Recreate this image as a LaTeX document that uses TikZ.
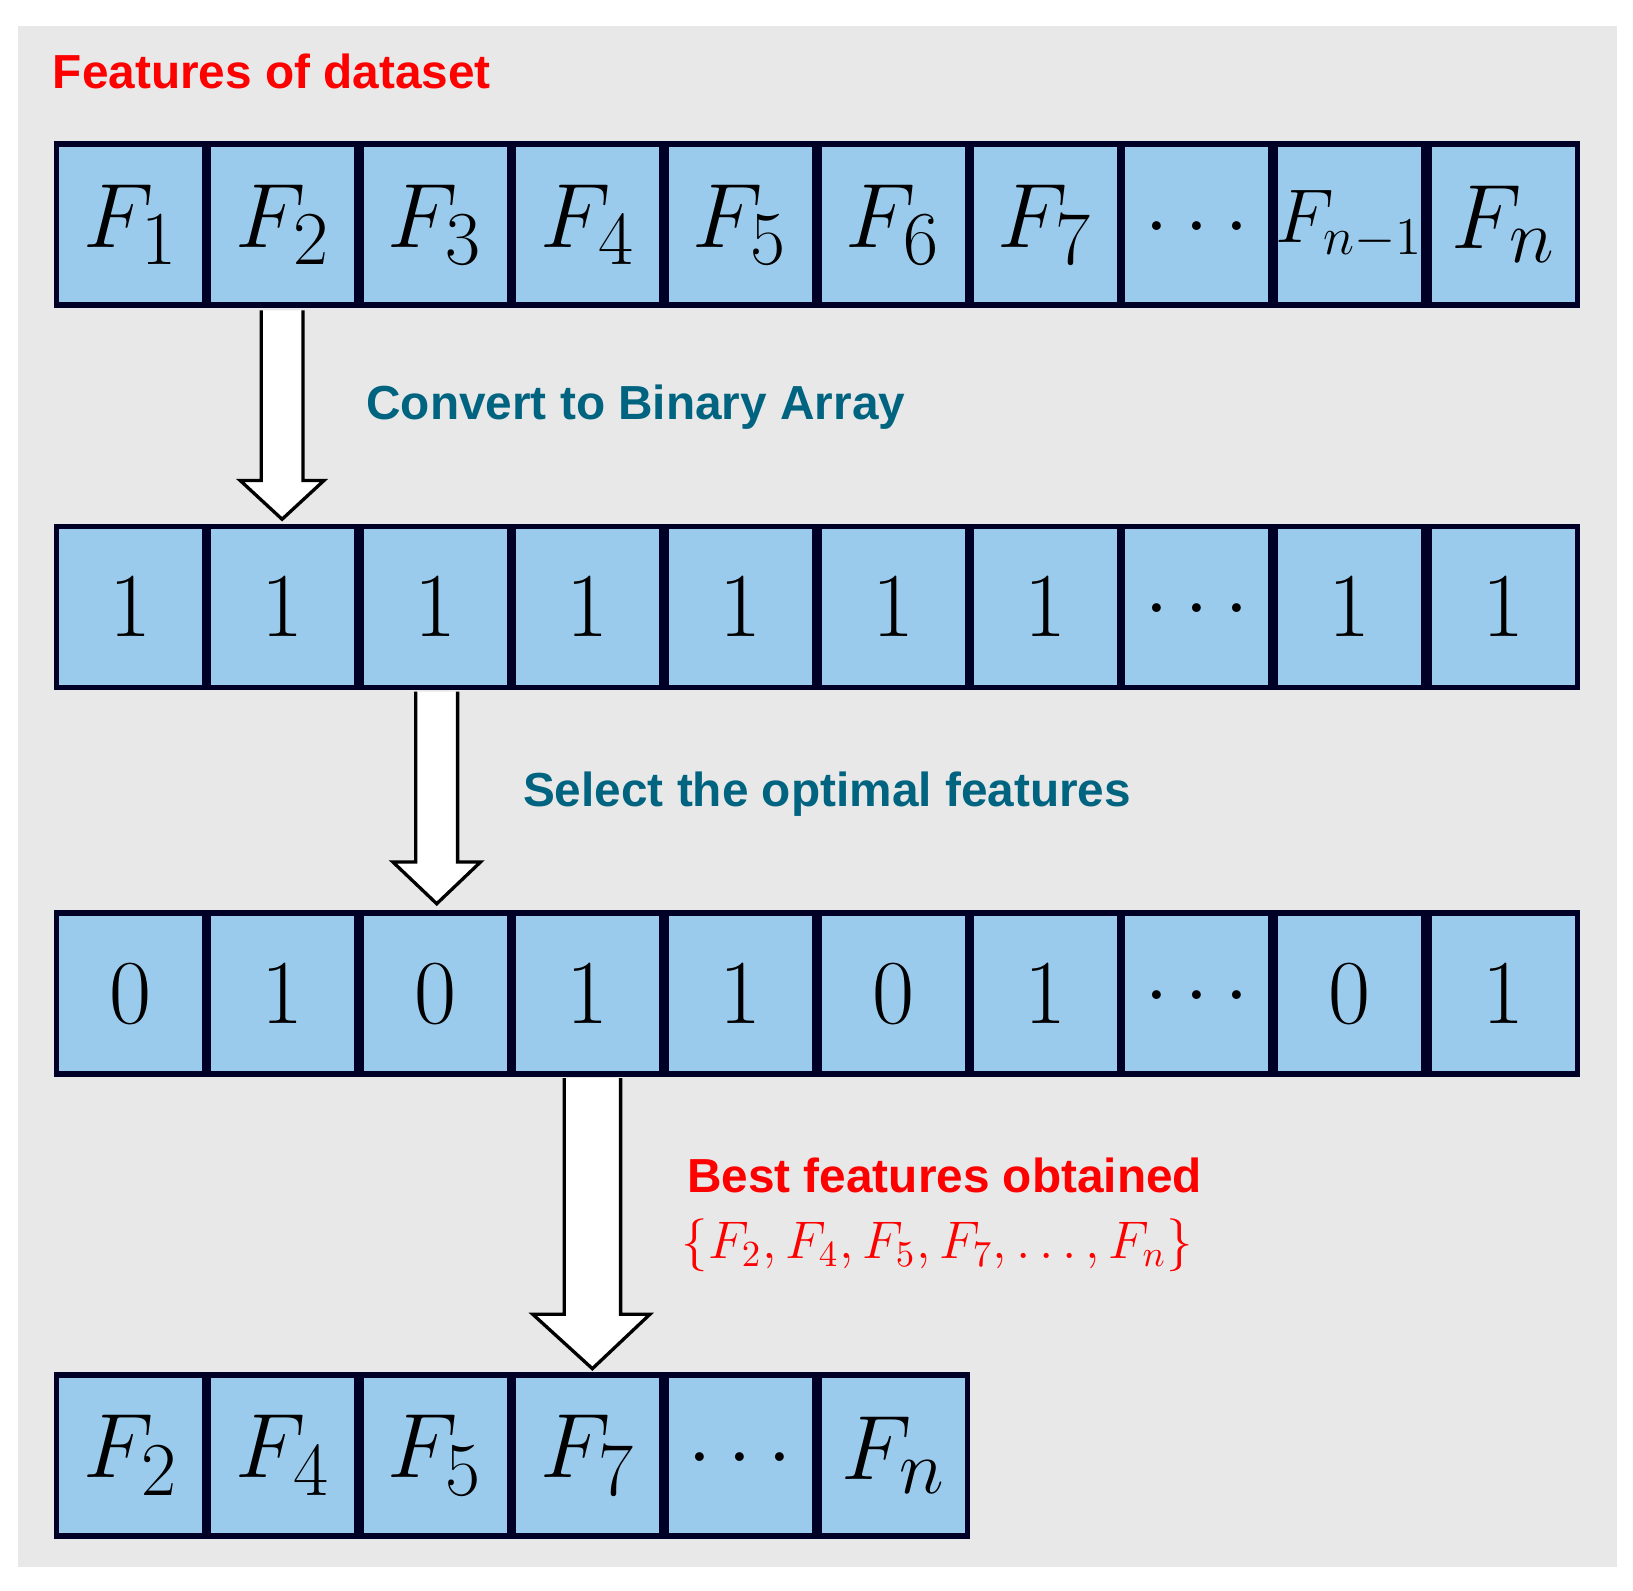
\documentclass[tikz,border=0pt]{standalone}
\usepackage{fontspec}
\setsansfont{Liberation Sans}
\definecolor{cellblue}{RGB}{155,203,236}
\definecolor{teal}{RGB}{0,100,128}
\definecolor{bg}{RGB}{232,232,232}
\begin{document}
\begin{tikzpicture}[x=0.01cm,y=-0.01cm,
  cell/.style={draw=black!85!blue,line width=1.5pt,fill=cellblue,minimum width=1.42cm,minimum height=1.54cm,inner sep=0pt,outer sep=0pt,font=\fontsize{30}{36}\selectfont},
  lab/.style={font=\sffamily\bfseries\fontsize{13}{16}\selectfont,anchor=west,inner sep=0pt},
  fat/.style={draw=black,line width=0.9pt,fill=white}]
\useasboundingbox (0,0) rectangle (1563,1522);
\fill[white] (0,0) rectangle (1563,1522);
\fill[bg] (17,25) rectangle (1548,1500);
\node[lab,text=red] (t1) at (50,68) {Features of dataset};
\def\xs{{52,198,343,490,635,782,928,1073,1218,1365,1513}}
\foreach \lbl [count=\i from 0] in {$F_1$,$F_2$,$F_3$,$F_4$,$F_5$,$F_6$,$F_7$,{\raisebox{-0.25ex}{$\dots$}},{\fontsize{22}{26}\selectfont$F_{n-1}$},$F_n$}{
  \pgfmathsetmacro\xa{\xs[\i]}\pgfmathsetmacro\xb{\xs[\i+1]}
  \node[cell] (a\i) at ({(\xa+\xb)/2},215) {\lbl};}
\foreach \lbl [count=\i from 0] in {1,1,1,1,1,1,1,{\raisebox{-0.25ex}{$\dots$}},1,1}{
  \pgfmathsetmacro\xa{\xs[\i]}\pgfmathsetmacro\xb{\xs[\i+1]}
  \node[cell] (b\i) at ({(\xa+\xb)/2},581) {$\lbl$};}
\foreach \lbl [count=\i from 0] in {0,1,0,1,1,0,1,{\raisebox{-0.25ex}{$\dots$}},0,1}{
  \pgfmathsetmacro\xa{\xs[\i]}\pgfmathsetmacro\xb{\xs[\i+1]}
  \node[cell] (c\i) at ({(\xa+\xb)/2},951) {$\lbl$};}
\foreach \lbl [count=\i from 0] in {$F_2$,$F_4$,$F_5$,$F_7$,{\raisebox{-0.25ex}{$\dots$}},$F_n$}{
  \pgfmathsetmacro\xa{\xs[\i]}\pgfmathsetmacro\xb{\xs[\i+1]}
  \node[cell] (d\i) at ({(\xa+\xb)/2},1393) {\lbl};}
\draw[fat] (250,297) -- (250,460) -- (230,460) -- (270,497) -- (310,460) -- (290,460) -- (290,297);
\draw[fat] (398,662) -- (398,825) -- (376,825) -- (418,865) -- (460,825) -- (438,825) -- (438,662);
\draw[fat] (540,1032) -- (540,1258) -- (510,1258) -- (567,1310) -- (622,1258) -- (594,1258) -- (594,1032);
\node[lab,text=teal] (t2) at (350,390) {Convert to Binary Array};
\node[lab,text=teal] (t3) at (500,760) {Select the optimal features};
\node[lab,text=red] (t4) at (657,1125) {Best features obtained};
\node[anchor=west,inner sep=0pt,text=red,font=\fontsize{14}{17}\selectfont] (t5) at (652,1192) {$\{F_2, F_4, F_5, F_7, \dots, F_n\}$};
\end{tikzpicture}
\end{document}
